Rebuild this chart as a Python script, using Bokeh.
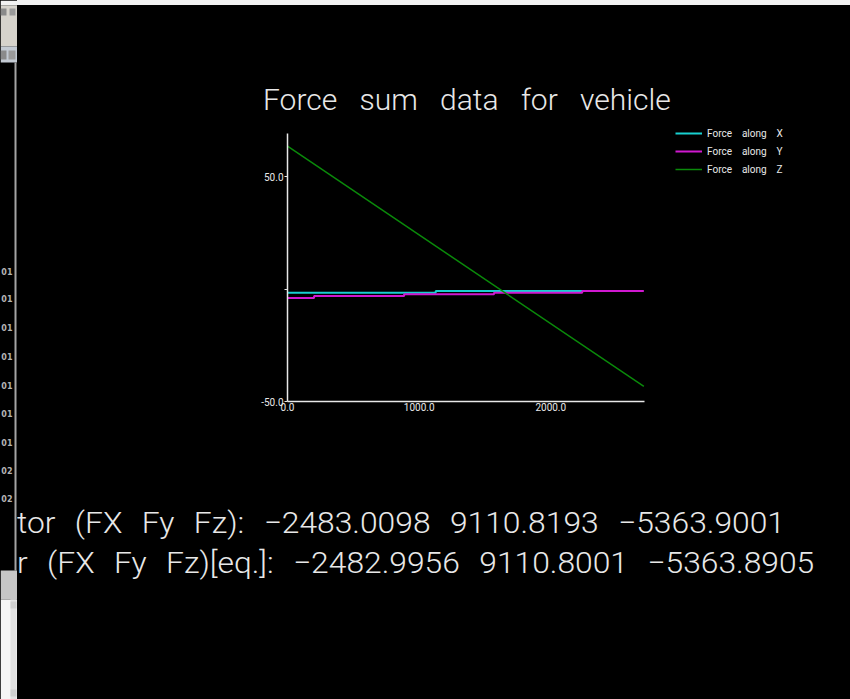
from bokeh.plotting import figure
from bokeh.models import Range1d, Legend, LegendItem, FixedTicker, NumeralTickFormatter, Spacer, Div
from bokeh.layouts import row, column
from bokeh.embed import file_html
from bokeh.resources import INLINE
from bokeh.core.properties import value

# ---- data -------------------------------------------------------------
# force components over time (step vertices)
fx_t = [0, 1126, 2239]
fx_v = [-1.54, -0.82, -0.82]
fy_t = [0, 202, 886, 1569, 2239, 2707]
fy_v = [-3.95, -3.05, -2.3, -1.54, -0.82, -0.82]
fz_t = [0, 2707]
fz_v = [63.7, -43.3]

series_labels = [["Force", "along", "X"], ["Force", "along", "Y"], ["Force", "along", "Z"]]
series_colors = ["#18d0d0", "#d018d0", "#0a8a0a"]

x_ticks = [0, 1000, 2000]
y_ticks = [-50, 0, 50]
x_limits = [0, 2712]      # extent of the drawn x axis
y_limits = [-50, 69.3]    # extent of the drawn y axis

title_text = "Force sum data for vehicle"
vector_text = "tor (FX Fy Fz): \u22122483.0098 9110.8193 \u22125363.9001"
eq_text = "r (FX Fy Fz)[eq.]: \u22122482.9956 9110.8001 \u22125363.8905"
panel_values = ["01", "01", "01", "01", "01", "01", "01", "02", "02"]


def spaced(words, gap):
    """Join words with a wide gap (one space plus non-breaking spaces)."""
    return (" " + "\u00a0" * (gap - 1)).join(words)


FG = "#e8e8e8"
W = 833  # width of the black area right of the side window

TEXT_CSS = ("position:absolute;white-space:pre;font-family:Roboto,sans-serif;"
            "font-weight:300;color:%s;transform-origin:0 0;" % FG)


def text_block(height, spans):
    """Black strip holding absolutely placed lines of text."""
    inner = "".join(
        '<span style="%sleft:%dpx;top:%dpx;font-size:%dpx;line-height:%dpx;'
        'word-spacing:%dpx;%s">%s</span>'
        % (TEXT_CSS, x, y, size, size, ws, extra, txt)
        for txt, x, y, size, ws, extra in spans)
    html = ('<div style="position:relative;width:%dpx;height:%dpx;overflow:hidden;'
            'background:#000;">%s</div>' % (W, height, inner))
    return Div(text=html, width=W, height=height, margin=0)


header = text_block(115, [(title_text, 246, 80, 30, 15, "")])
footer = text_block(239, [(vector_text, 0, 48, 30, 11, "transform:scaleX(1.06);"),
                          (eq_text, 0, 88, 30, 11, "transform:scaleX(1.06);")])

# ---- main plot ----------------------------------------------------------
# plot box in canvas pixels: the axes span FL..AX_R and AX_T..FB, the frame
# reaches further right and up so that the key can sit beside the axes
H = 340
FL, AX_R, FR = 270, 627, 783
AX_T, FT, FB = 13, 0, 281

x_end = x_limits[0] + (x_limits[1] - x_limits[0]) * (FR - FL) / (AX_R - FL)
y_end = y_limits[0] + (y_limits[1] - y_limits[0]) * (FB - FT) / (FB - AX_T)

p = figure(width=W, height=H,
           x_range=Range1d(x_limits[0], x_end), y_range=Range1d(y_limits[0], y_end),
           output_backend="svg", toolbar_location=None,
           min_border_left=FL, min_border_right=W - FR,
           min_border_top=FT, min_border_bottom=H - FB,
           background_fill_color="black", border_fill_color="black")
p.outline_line_color = None
p.xgrid.visible = False
p.ygrid.visible = False

r_x = p.step(fx_t, fx_v, mode="after", line_color=series_colors[0], line_width=2)
r_y = p.step(fy_t, fy_v, mode="after", line_color=series_colors[1], line_width=2)
r_z = p.line(fz_t, fz_v, line_color=series_colors[2], line_width=1.5)

for ax in (p.xaxis[0], p.yaxis[0]):
    ax.axis_line_color = FG
    ax.axis_line_width = 1.5
    ax.major_tick_line_color = FG
    ax.major_tick_line_width = 1
    ax.major_tick_in = 0
    ax.major_tick_out = 3
    ax.minor_tick_line_color = None
    ax.major_label_text_color = FG
    ax.major_label_text_font = "Roboto"
    ax.major_label_text_font_size = "10px"
    ax.major_label_standoff = 1
    ax.formatter = NumeralTickFormatter(format="0.0")

p.xaxis[0].ticker = FixedTicker(ticks=x_ticks)
p.yaxis[0].ticker = FixedTicker(ticks=y_ticks)
p.xaxis[0].bounds = tuple(x_limits)
p.yaxis[0].bounds = tuple(y_limits)
p.yaxis[0].major_label_overrides = {0: ""}
p.xaxis[0].major_tick_out = 0

legend = Legend(items=[LegendItem(label=spaced(series_labels[i], 4), renderers=[r])
                       for i, r in enumerate([r_x, r_y, r_z])],
                location=(388, 223), orientation="vertical",
                padding=0, margin=0, spacing=0,
                glyph_width=27, glyph_height=18, label_height=18, label_standoff=5,
                label_text_font="Roboto", label_text_font_size="10px", label_text_color=FG,
                background_fill_alpha=0, border_line_alpha=0)
p.add_layout(legend)

# ---- neighbouring window edge on the left --------------------------------
side = figure(width=17, height=699, x_range=Range1d(0, 17), y_range=Range1d(699, 0),
              output_backend="svg", toolbar_location=None, min_border=0,
              x_axis_location=None, y_axis_location=None,
              background_fill_color="black", border_fill_color="black",
              outline_line_color=None)
side.xgrid.visible = False
side.ygrid.visible = False

# window chrome: (left, right, top, bottom, colour)
chrome = [
    (0, 17, 0, 5, "#f2f2f2"),
    (0, 17, 5, 46, "#d6d3cc"),
    (0, 17, 46, 62, "#c3cad3"),
    (14, 16, 62, 570, "#a4a4a4"),
    (0, 17, 570, 599, "#c6c6c6"),
    (0, 17, 599, 699, "#f5f5f5"),
    (10, 16, 599, 699, "#e2e2e2"),
    (0, 6, 8, 15, "#8a8a8a"),
    (9, 15, 8, 15, "#9a9a9a"),
    (0, 6, 50, 59, "#8a8a8a"),
    (8, 15, 50, 59, "#9a9a9a"),
    (10, 16, 601, 608, "#cfcfcf"),
    (10, 16, 689, 696, "#cfcfcf"),
]
side.quad(left=[c[0] for c in chrome], right=[c[1] for c in chrome],
          top=[c[2] for c in chrome], bottom=[c[3] for c in chrome],
          fill_color=[c[4] for c in chrome], line_color=None)

row_y = [271, 298, 327, 356, 385, 413, 442, 470, 498]
side.text(x=[12] * len(panel_values), y=row_y, text=panel_values,
          text_align="right", text_baseline="middle",
          text_font=value("DejaVu Sans"), text_font_size="8px", text_font_style="bold",
          text_color="#b4b4b4")

top_edge = Spacer(width=W, height=5, styles={"background-color": "#f2f2f2"})
page = row(side, column(top_edge, header, p, footer, spacing=0), spacing=0,
           styles={"background-color": "black"})

open("out.html", "w").write(file_html(page, INLINE))
